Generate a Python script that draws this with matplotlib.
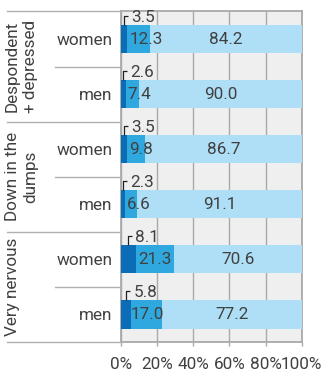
import matplotlib
matplotlib.use("Agg")
import matplotlib.pyplot as plt
from matplotlib.lines import Line2D
from matplotlib.transforms import blended_transform_factory
import numpy as np

plt.rcParams['font.family'] = ['Roboto', 'DejaVu Sans']
plt.rcParams['font.weight'] = 'normal'

# survey answers in percent, one row per (group, sex)
groups = ["Despondent\n+ depressed", "Down in the\ndumps", "Very nervous"]
sexes = ["women", "men"]
very = [3.5, 2.6, 3.5, 2.3, 8.1, 5.8]
somewhat = [12.3, 7.4, 9.8, 6.6, 21.3, 17.0]
not_at_all = [84.2, 90.0, 86.7, 91.1, 70.6, 77.2]
xticks = [0, 20, 40, 60, 80, 100]
xticklabels = ["0%", "20%", "40%", "60%", "80%", "100%"]

c_dark = "#0b6db5"
c_mid = "#2fa8e0"
c_light = "#aedff7"
c_grid = "#a9a9a9"
c_text = "#404040"
fs = 12.3

W, H = 323, 373
fig = plt.figure(figsize=(W / 100, H / 100), dpi=100)
ax = fig.add_axes([121 / W, 31 / H, 180.7 / W, 330.5 / H])
ax.set_facecolor("#efefef")

rows = np.arange(len(very))
bh = 0.51
very = np.array(very)
somewhat = np.array(somewhat)
not_at_all = np.array(not_at_all)

ax.barh(rows, very, height=bh, color=c_dark, zorder=3)
ax.barh(rows, somewhat, left=very, height=bh, color=c_mid, zorder=3)
ax.barh(rows, not_at_all, left=very + somewhat, height=bh, color=c_light, zorder=3)

for r in rows:
    v, s, n = very[r], somewhat[r], not_at_all[r]
    # small first segment: label above with a bracket leader
    lx = v / 2
    top = r - bh / 2
    ax.plot([lx, lx, lx + 1.9], [top, r - 0.42, r - 0.42], color="#222222",
            lw=0.9, zorder=4, solid_capstyle="butt")
    ax.text(lx + 3.9, r - 0.39, f"{v:.1f}", ha="left", va="center",
            fontsize=fs, color=c_text, zorder=5)
    # middle segment: centred if it fits, else pushed right
    if s >= 15:
        ax.text(v + s / 2, r, f"{s:.1f}", ha="center", va="center",
                fontsize=fs, color=c_text, zorder=5)
    else:
        ax.text(v + 1.2, r, f"{s:.1f}", ha="left", va="center",
                fontsize=fs, color=c_text, zorder=5)
    ax.text(v + s + n / 2, r, f"{n:.1f}", ha="center", va="center",
            fontsize=fs, color=c_text, zorder=5)

ax.set_xlim(0, 100)
ax.set_ylim(len(rows) - 0.5, -0.5)
ax.set_xticks(xticks)
ax.set_xticklabels(xticklabels, fontsize=fs, color=c_text)
ax.set_yticks(rows)
ax.set_yticklabels(sexes * len(groups), fontsize=fs, color=c_text)
ax.tick_params(axis="y", length=0, pad=6)
ax.tick_params(axis="x", length=3, width=1, color=c_grid, pad=8)
ax.grid(axis="x", color=c_grid, lw=1.0, zorder=1)
for sp in ax.spines.values():
    sp.set_color(c_grid)
    sp.set_linewidth(1.3)

# separators and group names on the left
tr = blended_transform_factory(fig.transFigure, ax.transData)
x0 = 7 / W
x_in = 55 / W
x_ax = 121 / W
for g in range(len(groups) + 1):
    y = g * 2 - 0.5
    fig.add_artist(Line2D([x0, x_ax], [y, y], transform=tr, color="#b0b0b0", lw=1.0))
for g in range(len(groups)):
    y = g * 2 + 0.5
    fig.add_artist(Line2D([x_in, x_ax], [y, y], transform=tr, color="#b0b0b0", lw=1.0))
    fig.text(5 / W, g * 2 + 0.5, groups[g], transform=tr, rotation=90,
             ha="left", va="center", multialignment="center",
             fontsize=fs, color=c_text, linespacing=1.25)

fig.savefig("out.png", dpi=100)
